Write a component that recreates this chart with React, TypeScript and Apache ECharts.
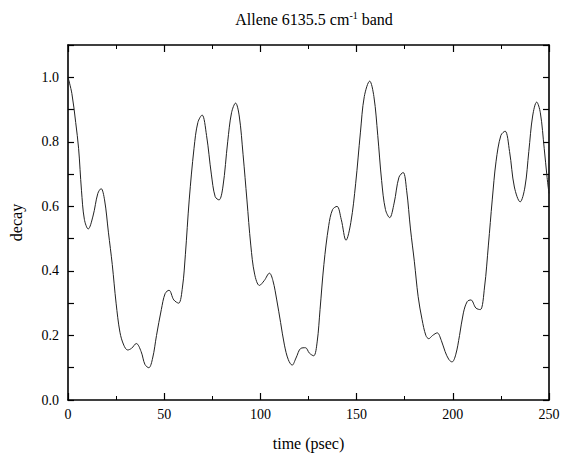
import React, { useEffect, useRef } from "react";
import * as echarts from "echarts";

const times: number[] = [
  0, 2, 4, 5.5, 7, 8.5, 10.5, 13, 15.5, 17.2, 19, 21, 23, 25, 27, 29, 31, 33, 35.5, 38, 40, 42, 44, 46, 48.5, 50.5,
  52.5, 55, 57.5, 59.5, 61, 63, 65.5, 67.5, 69.7, 72, 74.5, 76.5, 78.5, 80.5, 83, 85, 87.1, 89, 91, 93, 95, 97,
  99.5, 102, 104.7, 106.5, 108.5, 110.5, 112.5, 114.5, 116.5, 118.5, 121, 123.4, 125.5, 127.7, 129.5, 131, 133,
  135.5, 137.5, 139.8, 142, 144.5, 147, 149.5, 152, 154, 156.8, 159, 161, 163, 165, 167.2, 169.5, 172, 174.2,
  176, 178, 180, 182, 184, 186, 187.5, 189.5, 191.9, 194, 196, 198, 199.6, 201.5, 203.5, 205.5, 207.5, 209.4, 212,
  214.3, 216.5, 218.5, 220.5, 222.5, 225, 227.2, 229.5, 232, 235, 237.5, 239.5, 241.5, 243.6, 245.5, 247.5, 249, 250,
];

const decay: number[] = [
  1.0, 0.95, 0.86, 0.78, 0.65, 0.56, 0.53, 0.57, 0.64, 0.655, 0.62, 0.52, 0.42, 0.3, 0.21, 0.17, 0.155, 0.16, 0.175,
  0.15, 0.11, 0.1, 0.13, 0.2, 0.28, 0.33, 0.34, 0.31, 0.3, 0.35, 0.45, 0.62, 0.78, 0.86, 0.883, 0.82, 0.7, 0.63,
  0.62, 0.66, 0.8, 0.89, 0.92, 0.88, 0.76, 0.62, 0.48, 0.39, 0.355, 0.37, 0.393, 0.37, 0.31, 0.24, 0.17, 0.125,
  0.108, 0.13, 0.16, 0.162, 0.145, 0.137, 0.18, 0.28, 0.42, 0.54, 0.59, 0.6, 0.56, 0.495, 0.55, 0.67, 0.83, 0.94,
  0.988, 0.94, 0.82, 0.68, 0.59, 0.565, 0.61, 0.69, 0.705, 0.65, 0.53, 0.43, 0.32, 0.25, 0.2, 0.19, 0.2, 0.208,
  0.185, 0.15, 0.125, 0.118, 0.14, 0.2, 0.27, 0.305, 0.31, 0.285, 0.28, 0.35, 0.48, 0.62, 0.74, 0.82, 0.833, 0.77,
  0.66, 0.614, 0.66, 0.77, 0.88, 0.923, 0.89, 0.78, 0.69, 0.64,
];

const xTickLabels: number[] = [0, 50, 100, 150, 200, 250];
const yTickLabels: string[] = ["0.0", "0.2", "0.4", "0.6", "0.8", "1.0"];

const FONT = "'Liberation Serif', 'Times New Roman', serif";

export default function App() {
  const ref = useRef<HTMLDivElement>(null);
  useEffect(() => {
    document.body.style.margin = "0";
    if (!ref.current) return;
    const chart = echarts.init(ref.current, null, { renderer: "svg" });
    const axisLineStyle = { color: "#000", width: 1.6 };
    const common = {
      axisLine: { show: true, lineStyle: axisLineStyle, onZero: false },
      splitLine: { show: false },
    };
    chart.setOption({
      animation: false,
      backgroundColor: "#fff",
      title: {
        text: "Allene 6135.5 cm{sup|-1} band",
        left: 309,
        top: 5,
        textAlign: "center",
        textStyle: {
          fontFamily: FONT,
          fontSize: 16,
          fontWeight: "normal",
          color: "#000",
          rich: {
            sup: { fontFamily: FONT, fontSize: 10, color: "#000", verticalAlign: "top", lineHeight: 19 },
          },
        },
      },
      grid: { left: 66, right: 16, top: 45, bottom: 51 },
      xAxis: [
        {
          type: "value",
          min: 0,
          max: 250,
          interval: 50,
          name: "time (psec)",
          nameLocation: "middle",
          nameGap: 35,
          nameTextStyle: { fontFamily: FONT, fontSize: 16, color: "#000" },
          ...common,
          axisTick: { show: true, inside: true, length: 7, lineStyle: { color: "#000", width: 1.2 } },
          minorTick: { show: true, splitNumber: 2, length: 4, lineStyle: { color: "#000", width: 1 } },
          axisLabel: {
            fontFamily: FONT,
            fontSize: 14,
            color: "#000",
            margin: 7,
            formatter: (v: number) => (xTickLabels.includes(v) ? String(v) : ""),
          },
        },
        {
          type: "value",
          position: "top",
          min: 0,
          max: 250,
          interval: 50,
          ...common,
          axisTick: { show: true, inside: true, length: 7, lineStyle: { color: "#000", width: 1.2 } },
          minorTick: { show: true, splitNumber: 2, length: 4, lineStyle: { color: "#000", width: 1 } },
          axisLabel: { show: false },
        },
      ],
      yAxis: [
        {
          type: "value",
          min: 0,
          max: 1.1,
          interval: 0.1,
          name: "decay",
          nameLocation: "middle",
          nameGap: 44,
          nameTextStyle: { fontFamily: FONT, fontSize: 16, color: "#000" },
          ...common,
          axisTick: { show: true, inside: true, length: 6, lineStyle: { color: "#000", width: 1.2 } },
          axisLabel: {
            fontFamily: FONT,
            fontSize: 14,
            color: "#000",
            margin: 9,
            formatter: (v: number) => {
              const s = v.toFixed(1);
              return yTickLabels.includes(s) ? s : "";
            },
          },
        },
        {
          type: "value",
          position: "right",
          min: 0,
          max: 1.1,
          interval: 0.1,
          ...common,
          axisTick: { show: true, inside: true, length: 6, lineStyle: { color: "#000", width: 1.2 } },
          axisLabel: { show: false },
        },
      ],
      series: [
        {
          type: "line",
          xAxisIndex: 0,
          yAxisIndex: 0,
          data: times.map((t, i) => [t, decay[i]]),
          smooth: 0.35,
          showSymbol: false,
          symbol: "none",
          lineStyle: { color: "#222", width: 1 },
        },
      ],
    });
    return () => chart.dispose();
  }, []);
  return <div ref={ref} style={{ width: 565, height: 456 }} />;
}
